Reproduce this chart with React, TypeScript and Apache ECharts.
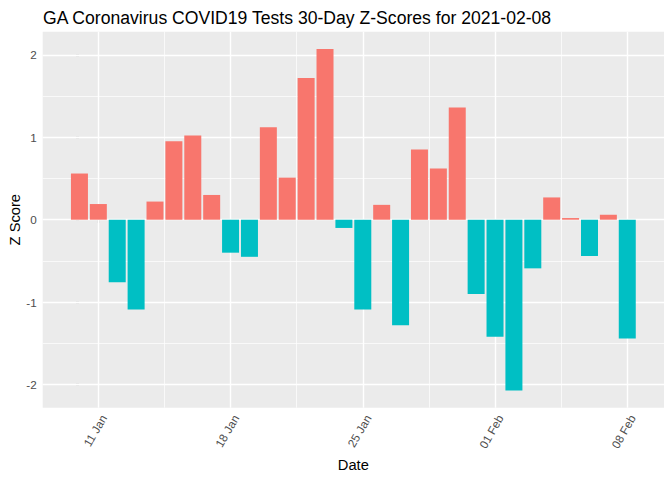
import React, { useEffect, useRef } from "react";
import * as echarts from "echarts";

const dates = [
  "2021-01-10", "2021-01-11", "2021-01-12", "2021-01-13", "2021-01-14", "2021-01-15",
  "2021-01-16", "2021-01-17", "2021-01-18", "2021-01-19", "2021-01-20", "2021-01-21",
  "2021-01-22", "2021-01-23", "2021-01-24", "2021-01-25", "2021-01-26", "2021-01-27",
  "2021-01-28", "2021-01-29", "2021-01-30", "2021-01-31", "2021-02-01", "2021-02-02",
  "2021-02-03", "2021-02-04", "2021-02-05", "2021-02-06", "2021-02-07", "2021-02-08",
];
const zScores = [
  0.56, 0.19, -0.76, -1.09, 0.22, 0.95, 1.02, 0.3, -0.4, -0.45, 1.12, 0.51, 1.72, 2.07, -0.1,
  -1.09, 0.18, -1.28, 0.85, 0.62, 1.36, -0.9, -1.42, -2.07, -0.59, 0.27, 0.02, -0.44, 0.06, -1.44,
];
const xTickDates = ["2021-01-11", "2021-01-18", "2021-01-25", "2021-02-01", "2021-02-08"];
const xTickLabels = ["11 Jan", "18 Jan", "25 Jan", "01 Feb", "08 Feb"];
const yTicks = [-2, -1, 0, 1, 2];
const yMinor = [-1.5, -0.5, 0.5, 1.5];

export default function App() {
  const ref = useRef<HTMLDivElement>(null);
  useEffect(() => {
    if (!ref.current) return;
    const chart = echarts.init(ref.current, null, { renderer: "svg" });
    const xTickIdx = xTickDates.map((d) => dates.indexOf(d));
    const xMinor: number[] = [];
    for (let i = 0; i < xTickIdx.length - 1; i++) xMinor.push((xTickIdx[i] + xTickIdx[i + 1]) / 2);
    const font = "Liberation Sans, Arial, sans-serif";
    const major = { color: "#FFFFFF", width: 1.4, type: "solid" as const };
    const minor = { color: "#FFFFFF", width: 0.7, type: "solid" as const };
    const gridLines = [
      ...yMinor.map((v) => ({ yAxis: v, lineStyle: minor })),
      ...xMinor.map((v) => ({ xAxis: v, lineStyle: minor })),
      ...yTicks.map((v) => ({ yAxis: v, lineStyle: major })),
      ...xTickIdx.map((v) => ({ xAxis: v, lineStyle: major })),
    ];
    chart.setOption({
      animation: false,
      backgroundColor: "#FFFFFF",
      title: {
        text: "GA Coronavirus COVID19 Tests 30-Day Z-Scores for 2021-02-08",
        left: 38,
        top: 4,
        textStyle: { fontFamily: font, fontSize: 17.6, fontWeight: "normal", color: "#000000" },
      },
      grid: {
        left: 42.7,
        right: 8,
        top: 31.7,
        bottom: 72.3,
        show: true,
        backgroundColor: "#EBEBEB",
        borderWidth: 0,
        outerBoundsMode: "none",
        containLabel: false,
      },
      xAxis: {
        type: "value",
        min: -1.945,
        max: 30.945,
        name: "Date",
        nameLocation: "middle",
        nameGap: 50,
        nameMoveOverlap: false,
        nameTextStyle: { fontFamily: font, fontSize: 14.7, color: "#000000" },
        axisLine: { show: false },
        splitLine: { show: false },
        axisTick: {
          show: true,
          length: 3.7,
          lineStyle: { color: "#333333", width: 1.1 },
          customValues: xTickIdx,
        },
        axisLabel: {
          show: true,
          rotate: 60,
          margin: 5,
          verticalAlign: "top",
          fontFamily: font,
          fontSize: 11.7,
          color: "#4D4D4D",
          customValues: xTickIdx,
          formatter: (v: number) => {
            const k = xTickIdx.indexOf(Math.round(v));
            return k >= 0 ? xTickLabels[k] : "";
          },
        },
      },
      yAxis: {
        type: "value",
        min: -2.28,
        max: 2.28,
        name: "Z Score",
        nameLocation: "middle",
        nameGap: 20,
        nameMoveOverlap: false,
        nameTextStyle: { fontFamily: font, fontSize: 14.7, color: "#000000" },
        axisLine: { show: false },
        splitLine: { show: false },
        axisTick: {
          show: true,
          length: 3.7,
          lineStyle: { color: "#333333", width: 1.1 },
          customValues: yTicks,
        },
        axisLabel: {
          show: true,
          margin: 6,
          fontFamily: font,
          fontSize: 11.7,
          color: "#4D4D4D",
          customValues: yTicks,
          formatter: (v: number) => String(Math.round(v)),
        },
      },
      series: [
        {
          type: "bar",
          z: 2,
          barWidth: 17,
          data: zScores.map((v, i) => ({
            value: [i, v],
            itemStyle: { color: v >= 0 ? "#F8766D" : "#00BFC4" },
          })),
          markLine: {
            z: 1,
            silent: true,
            symbol: ["none", "none"],
            label: { show: false },
            emphasis: { disabled: true },
            data: gridLines,
          },
        },
      ],
    });
    return () => chart.dispose();
  }, []);
  return <div ref={ref} style={{ position: "fixed", left: 0, top: 0, width: 672, height: 480 }} />;
}
